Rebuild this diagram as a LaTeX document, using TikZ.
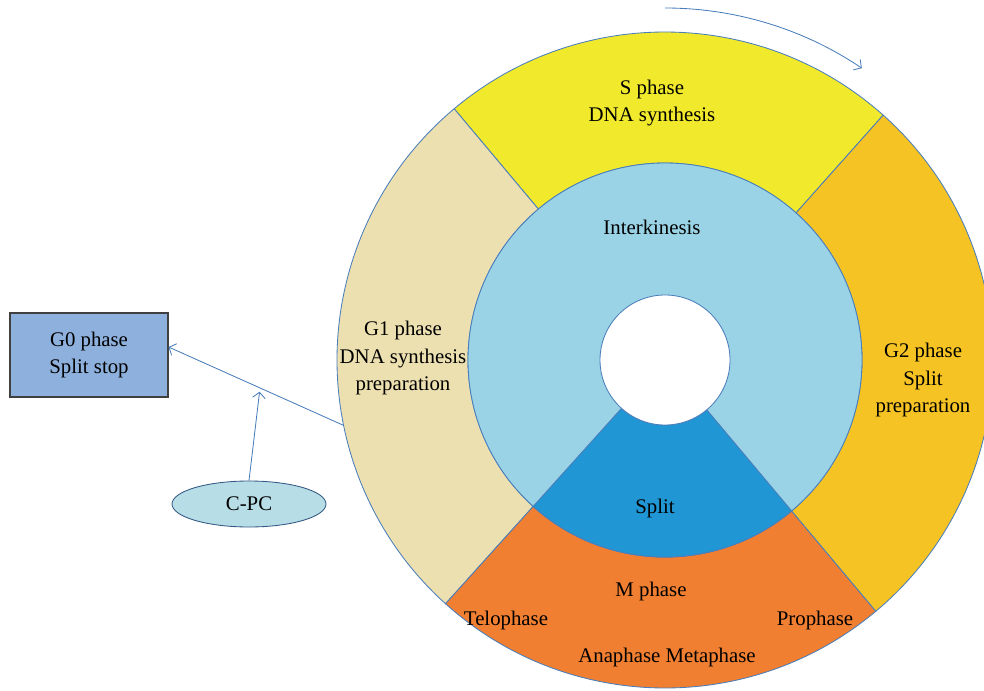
\documentclass[tikz,border=0pt]{standalone}
\usepackage{fontspec}
\setmainfont{Liberation Serif}
\usetikzlibrary{shapes.geometric,arrows.meta}
\definecolor{sphase}{HTML}{F1E92C}
\definecolor{gonephase}{HTML}{EDE0B0}
\definecolor{gtwophase}{HTML}{F5C324}
\definecolor{mphase}{HTML}{F07F32}
\definecolor{interk}{HTML}{9AD3E5}
\definecolor{splitblue}{HTML}{2196D4}
\definecolor{gzerobox}{HTML}{8EB0DC}
\definecolor{cpcfill}{HTML}{B7DDE6}
\definecolor{edgeblue}{HTML}{4A7EBB}

\begin{document}
\begin{tikzpicture}[
	sector/.style={
		draw=edgeblue,
		line width=0.6pt
	},
	txt/.style={
		align=center,
		font=\fontsize{14.8}{19.8}\selectfont,
		inner sep=0pt
	},
	conn/.style={
		draw=edgeblue,
		line width=0.6pt,
		-{Straight Barb[length=4pt,width=9pt]}
	}
	]
	\useasboundingbox (0,0) rectangle (24.6,17.25);
	\clip (0,0) rectangle (24.6,17.25);
	\coordinate (c) at (16.625,8.25);
	
	% outer ring
	\filldraw[sector, fill=sphase] ([shift={(48.3:8.2)}]c) arc[start angle=48.3, end angle=130, radius=8.2]
		-- ([shift={(130:4.925)}]c) arc[start angle=130, end angle=48.3, radius=4.925] -- cycle;
	\filldraw[sector, fill=gonephase] ([shift={(130:8.2)}]c) arc[start angle=130, end angle=228, radius=8.2]
		-- ([shift={(228:4.925)}]c) arc[start angle=228, end angle=130, radius=4.925] -- cycle;
	\filldraw[sector, fill=mphase] ([shift={(228:8.2)}]c) arc[start angle=228, end angle=310, radius=8.2]
		-- ([shift={(310:4.925)}]c) arc[start angle=310, end angle=228, radius=4.925] -- cycle;
	\filldraw[sector, fill=gtwophase] ([shift={(-50:8.2)}]c) arc[start angle=-50, end angle=48.3, radius=8.2]
		-- ([shift={(48.3:4.925)}]c) arc[start angle=48.3, end angle=-50, radius=4.925] -- cycle;
	
	% inner ring
	\filldraw[sector, fill=interk] (c) circle[radius=4.925];
	\filldraw[sector, fill=splitblue] ([shift={(228:4.925)}]c) arc[start angle=228, end angle=310, radius=4.925]
		-- ([shift={(310:1.625)}]c) arc[start angle=310, end angle=228, radius=1.625] -- cycle;
	\filldraw[sector, fill=white] (c) circle[radius=1.625];
	
	% labels
	\node[txt] (s) at (16.3,14.675) {S phase\\DNA synthesis};
	\node[txt] (ik) at (16.3,11.575) {Interkinesis};
	\node[txt] (g1) at (10.075,8.3) {G1 phase\\DNA synthesis\\preparation};
	\node[txt] (g2) at (23.075,7.75) {G2 phase\\Split\\preparation};
	\node[txt] (sp) at (16.375,4.55) {Split};
	\node[txt] (m) at (16.275,2.475) {M phase};
	\node[txt] (telo) at (12.65,1.75) {Telophase};
	\node[txt] (pro) at (20.375,1.75) {Prophase};
	\node[txt] (ana) at (16.675,0.825) {Anaphase Metaphase};
	
	\node[txt, draw=black!75, fill=gzerobox, line width=0.8pt, minimum width=3.95cm, minimum height=2.1cm] 
	(g0) at (2.225,8.375) {G0 phase\\Split stop};
	\node[txt, ellipse, draw=edgeblue!70!black, fill=cpcfill, line width=0.6pt, minimum width=3.85cm, minimum height=1.15cm] 
	(cpc) at (6.225,4.65) {C-PC};
	
	% connectors
	\coordinate (g1edge) at ([shift={(191.5:8.2)}]c);
	\draw[conn] (g1edge) -- coordinate[pos=0.48] (hit) ([yshift=0.2cm]g0.east);
	\draw[conn] (cpc.north) -- ([yshift=-0.1cm]hit);
	
	\coordinate (cycstart) at ([shift={(90:8.8)}]c);
	\draw[conn] (cycstart) arc[start angle=90, end angle=56, radius=8.8];
	
\end{tikzpicture}
\end{document}
